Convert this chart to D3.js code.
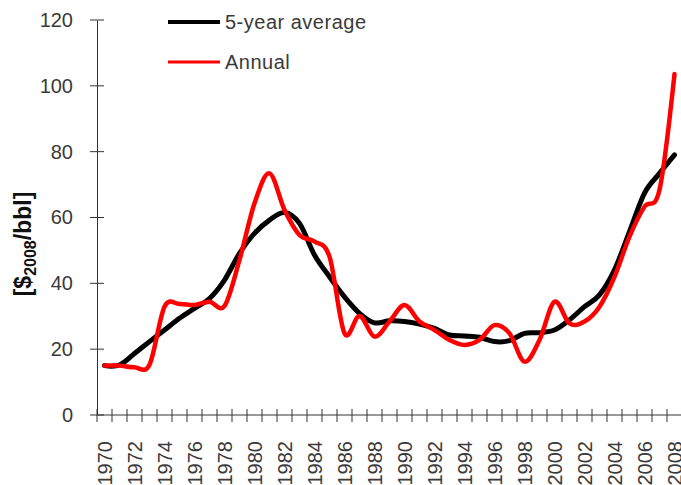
<!DOCTYPE html>
<html>
<head>
<meta charset="utf-8">
<script src="https://cdn.jsdelivr.net/npm/d3@7"></script>
<style>
  body { margin: 0; background: #fff; }
  svg { display: block; font-family: Arial, "Liberation Sans", sans-serif; }
</style>
</head>
<body>
<div id="chart"></div>
<script>
// Jahre und Werte (real, $2008 pro Barrel)
const years = d3.range(1970, 2009);
const annual = [15.0, 15.0, 14.5, 15.3, 32.9, 33.7, 33.4, 34.4, 33.1, 47.1,
  64.3, 73.4, 62.3, 54.7, 52.7, 48.1, 24.8, 30.1, 23.8, 28.4,
  33.4, 28.4, 25.8, 22.8, 21.3, 22.8, 27.3, 24.8, 16.2, 22.8,
  34.4, 27.8, 28.4, 32.9, 42.0, 54.2, 63.3, 68.4, 103.6];
const fiveYear = [15.0, 15.2, 18.7, 22.3, 25.8, 29.4, 32.4, 35.4, 41.0, 49.1,
  55.2, 59.2, 61.5, 58.2, 48.6, 42.0, 35.9, 30.9, 28.0, 28.6,
  28.4, 27.6, 26.3, 24.3, 24.0, 23.6, 22.3, 22.6, 24.8, 25.0,
  25.8, 28.9, 32.9, 36.5, 44.1, 55.7, 67.4, 73.4, 79.0];
const yTicks = [0, 20, 40, 60, 80, 100, 120];
const xLabels = years.filter(y => y % 2 === 0);
const seriesNames = ["5-year average", "Annual"];

const width = 681, height = 485;
const plotLeft = 97, plotRight = 682, plotTop = 20, plotBottom = 415;

const svg = d3.select("#chart").append("svg")
  .attr("width", width)
  .attr("height", height);

const x = d3.scaleBand().domain(years).range([plotLeft, plotRight]).paddingInner(0).paddingOuter(0);
const y = d3.scaleLinear().domain([0, 120]).range([plotBottom, plotTop]);
const cx = d => x(d) + x.bandwidth() / 2;

// Y-Achse
const yAxis = svg.append("g")
  .attr("transform", `translate(${plotLeft},0)`)
  .call(d3.axisLeft(y).tickValues(yTicks).tickSize(0).tickPadding(24).tickFormat(d3.format("d")));
yAxis.select(".domain").attr("stroke", "#333");
yAxis.selectAll("text").attr("font-size", 20).attr("fill", "#3a3a3a");
yTicks.forEach(t => {
  svg.append("line")
    .attr("x1", plotLeft - 7).attr("x2", plotLeft + 7)
    .attr("y1", y(t)).attr("y2", y(t))
    .attr("stroke", "#333");
});

// X-Achse
svg.append("line")
  .attr("x1", plotLeft).attr("x2", plotRight)
  .attr("y1", plotBottom).attr("y2", plotBottom)
  .attr("stroke", "#333");
years.concat([2009]).forEach(yr => {
  const px = yr === 2009 ? plotRight : x(yr);
  svg.append("line")
    .attr("x1", px).attr("x2", px)
    .attr("y1", plotBottom - 6).attr("y2", plotBottom + 7)
    .attr("stroke", "#333");
});
svg.selectAll(".xlab").data(xLabels).join("text")
  .attr("class", "xlab")
  .attr("transform", d => `translate(${cx(d)},${plotBottom + 26}) rotate(-90)`)
  .attr("text-anchor", "end")
  .attr("dy", "0.35em")
  .attr("font-size", 20)
  .attr("fill", "#3a3a3a")
  .text(d => d);

// Achsentitel
const title = svg.append("text")
  .attr("transform", `translate(31,244) rotate(-90)`)
  .attr("text-anchor", "middle")
  .attr("font-weight", "bold")
  .attr("font-size", 23)
  .attr("fill", "#111");
title.append("tspan").text("[$");
title.append("tspan").attr("font-size", 16).attr("dy", 5).text("2008");
title.append("tspan").attr("dy", -5).text("/bbl]");

// Linien
const line = d3.line()
  .x((d, i) => cx(years[i]))
  .y(d => y(d))
  .curve(d3.curveCardinal.tension(0));

svg.append("path")
  .datum(fiveYear)
  .attr("d", line)
  .attr("fill", "none")
  .attr("stroke", "#000")
  .attr("stroke-width", 5)
  .attr("stroke-linecap", "round");

svg.append("path")
  .datum(annual)
  .attr("d", line)
  .attr("fill", "none")
  .attr("stroke", "#ff0000")
  .attr("stroke-width", 4.5)
  .attr("stroke-linecap", "round");

// Legende
const legend = svg.append("g");
seriesNames.forEach((name, i) => {
  const ly = 22 + i * 40;
  legend.append("line")
    .attr("x1", 168).attr("x2", 220)
    .attr("y1", ly).attr("y2", ly)
    .attr("stroke", i === 0 ? "#000" : "#ff0000")
    .attr("stroke-width", i === 0 ? 4 : 3);
  legend.append("text")
    .attr("x", 225).attr("y", ly)
    .attr("dy", "0.35em")
    .attr("font-size", 20)
    .attr("letter-spacing", 0.5)
    .attr("fill", "#3a3a3a")
    .text(name);
});
</script>
</body>
</html>
